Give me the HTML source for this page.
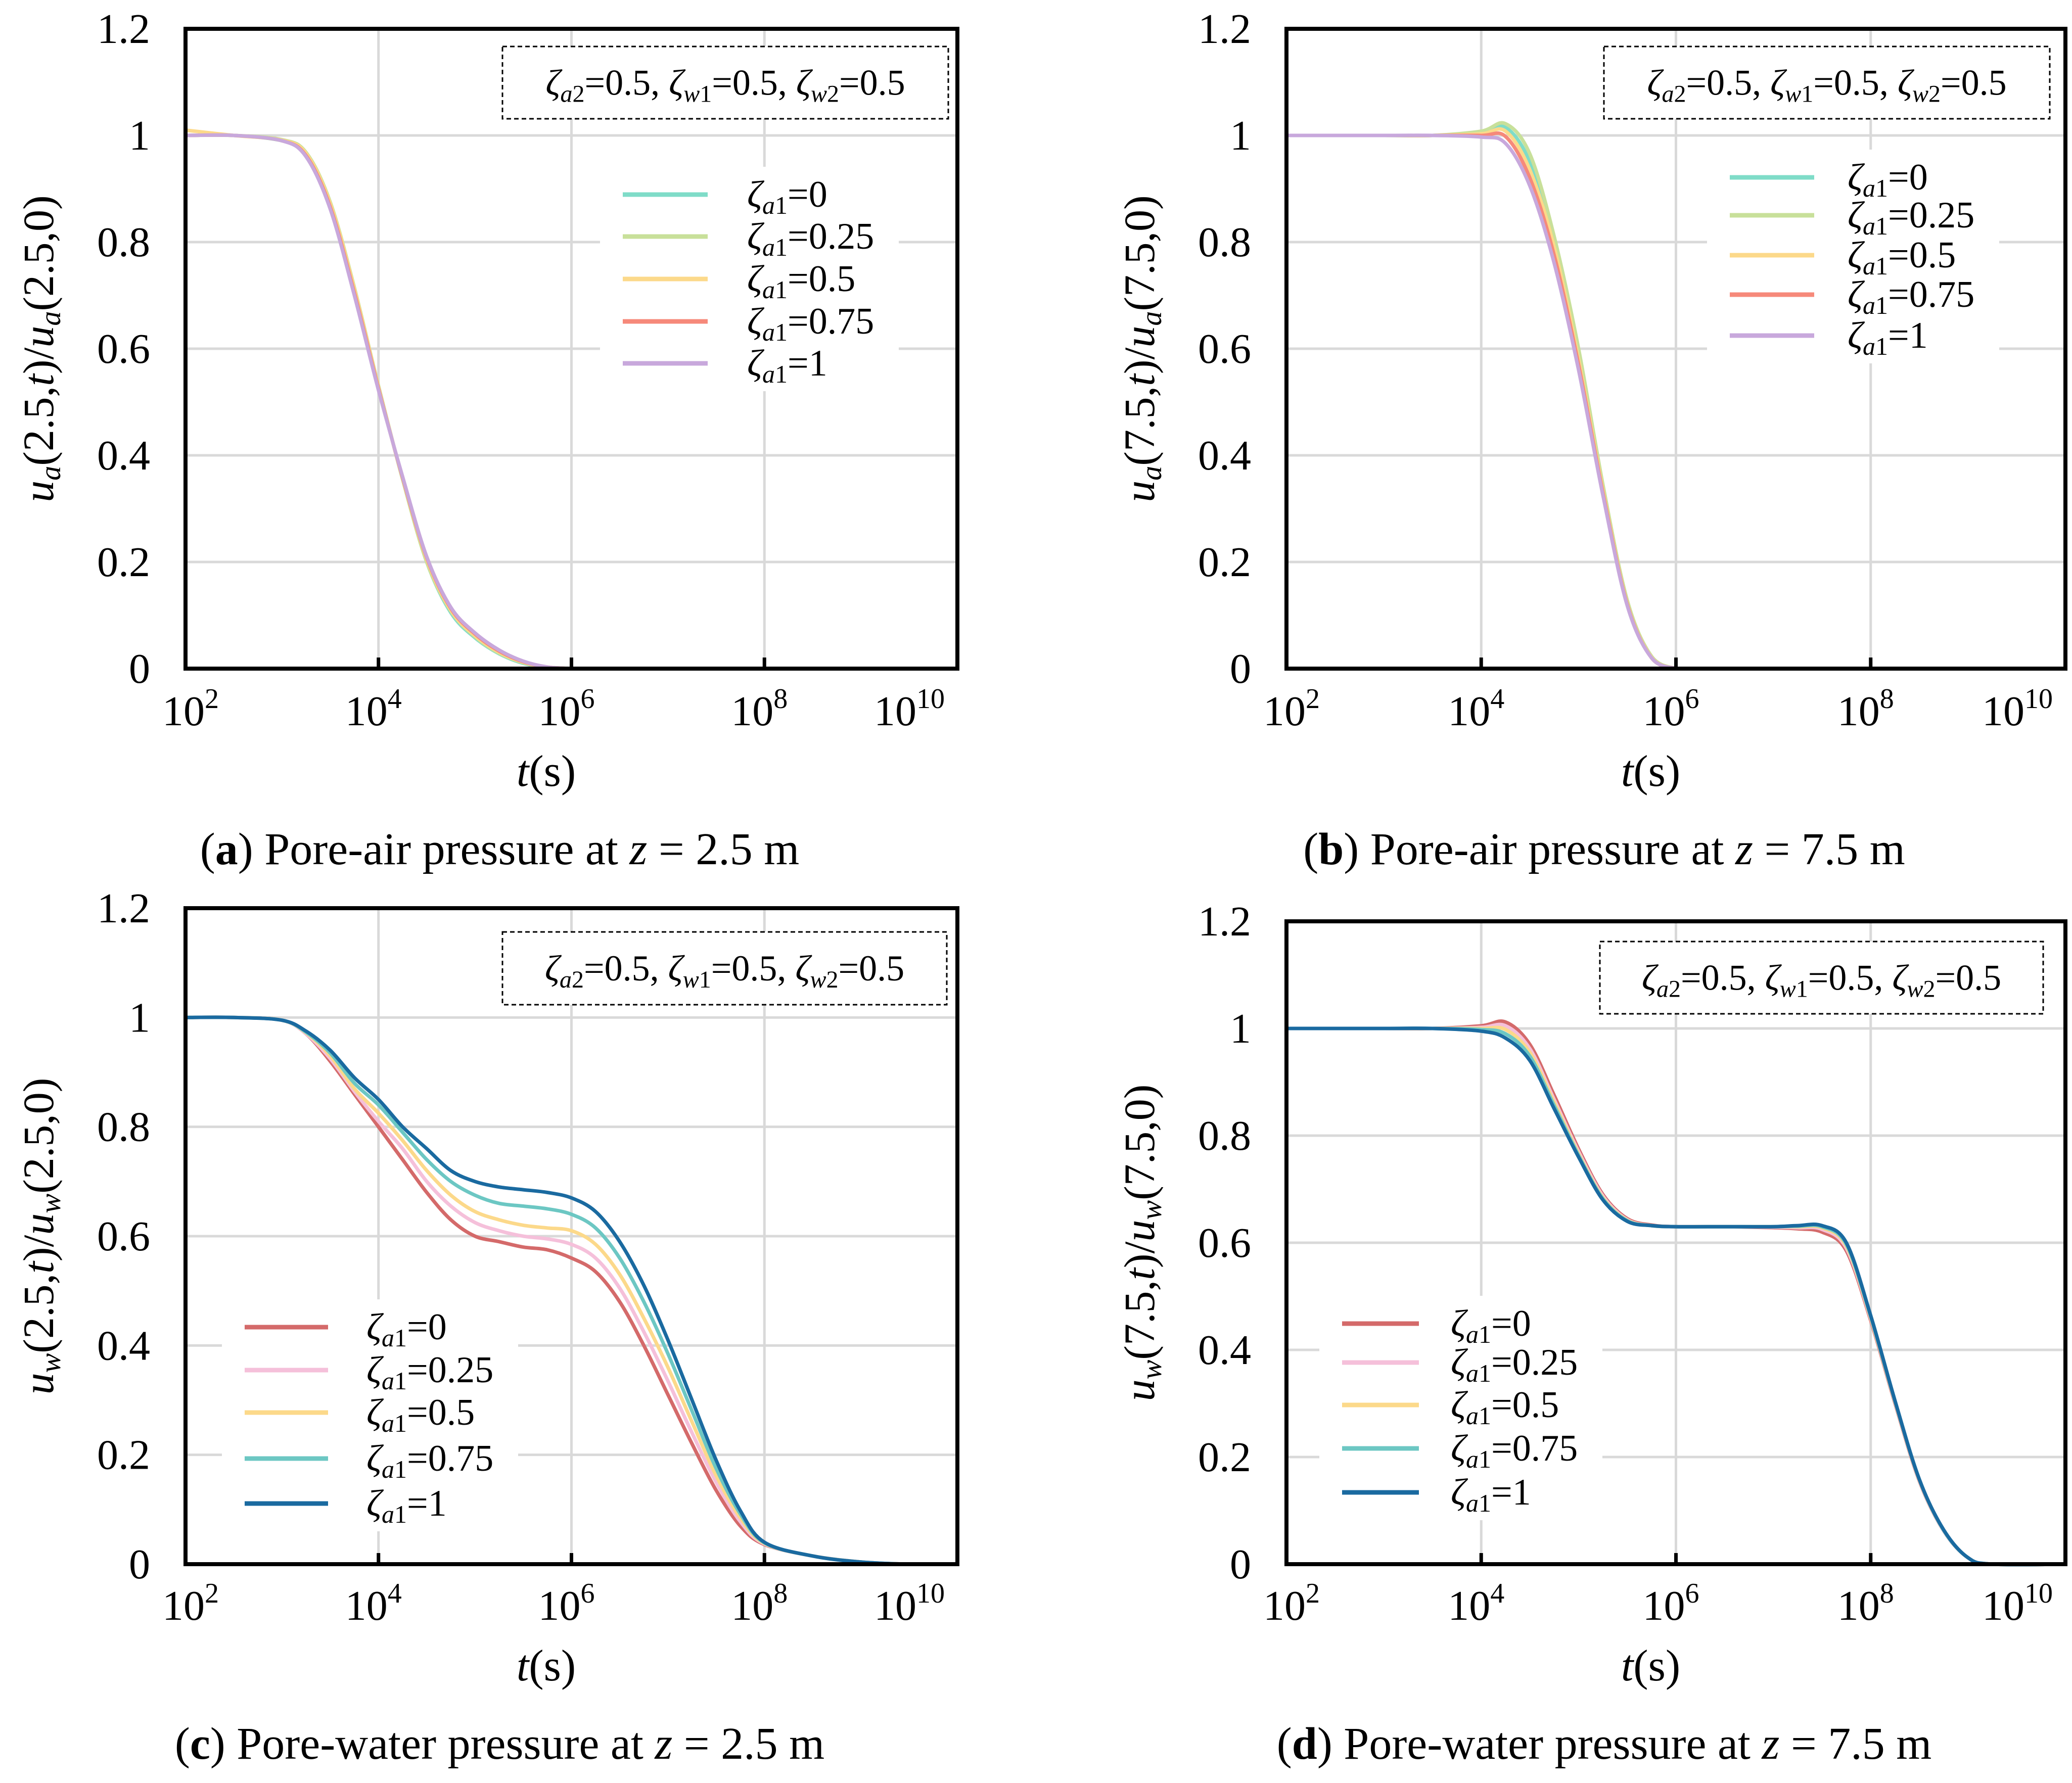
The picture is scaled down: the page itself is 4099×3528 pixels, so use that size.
<!DOCTYPE html>
<html><head><meta charset="utf-8">
<style>
html,body{margin:0;padding:0;background:#fff;}
svg{display:block;font-family:"Liberation Serif",serif;}
</style></head>
<body>
<svg id="fig" xmlns="http://www.w3.org/2000/svg" width="4099" height="3528" viewBox="0 0 4099 3528"></svg>
<script>
// ---- data (log10 t, normalized pressure) ----
const xA = [2,2.5,3,3.25,3.5,3.75,4,4.25,4.5,4.75,5,5.25,5.5,5.75,6];
const aS0 = [1,1,0.99,0.965,0.87,0.71,0.53,0.355,0.2,0.105,0.058,0.028,0.01,0.002,0];
const aS1 = [1,1,0.992,0.968,0.875,0.715,0.53,0.355,0.2,0.108,0.06,0.029,0.011,0.002,0];
const aS2 = [1.01,1,0.991,0.966,0.872,0.712,0.528,0.357,0.205,0.11,0.062,0.031,0.012,0.003,0];
const aS3 = [1,1,0.99,0.962,0.866,0.705,0.525,0.358,0.208,0.113,0.065,0.033,0.013,0.003,0];
const aS4 = [1,1,0.99,0.96,0.862,0.7,0.522,0.36,0.21,0.115,0.067,0.035,0.014,0.003,0];

const xB = [2,3,3.5,4,4.25,4.5,4.75,5,5.25,5.5,5.75,6];
const bS0 = [1,1,1,1.005,1.015,0.95,0.8,0.59,0.34,0.125,0.022,0];
const bS1 = [1,1,1,1.008,1.022,0.965,0.81,0.6,0.345,0.128,0.023,0];
const bS2 = [1,1,1,1.003,1.008,0.935,0.79,0.58,0.335,0.122,0.021,0];
const bS3 = [1,1,1,1,0.998,0.92,0.775,0.57,0.33,0.12,0.02,0];
const bS4 = [1,1,1,0.997,0.985,0.905,0.76,0.56,0.325,0.118,0.02,0];

const xC = [2,2.5,3,3.25,3.5,3.75,4,4.25,4.5,4.75,5,5.25,5.5,5.75,6,6.25,6.5,6.75,7,7.25,7.5,7.75,8,8.5,9,9.5,10];
const cS0 = [1,1,0.995,0.97,0.92,0.86,0.80,0.74,0.68,0.63,0.60,0.59,0.58,0.575,0.56,0.535,0.48,0.40,0.31,0.22,0.135,0.07,0.036,0.015,0.004,0,0];
const cS1 = [1,1,0.995,0.97,0.925,0.865,0.81,0.76,0.70,0.655,0.625,0.61,0.60,0.595,0.585,0.56,0.505,0.425,0.335,0.24,0.15,0.078,0.037,0.015,0.004,0,0];
const cS2 = [1,1,0.995,0.972,0.93,0.87,0.825,0.775,0.72,0.675,0.645,0.63,0.62,0.615,0.61,0.585,0.53,0.45,0.36,0.26,0.162,0.085,0.038,0.015,0.004,0,0];
const cS3 = [1,1,0.995,0.973,0.935,0.88,0.84,0.79,0.74,0.70,0.675,0.66,0.655,0.65,0.64,0.615,0.56,0.48,0.385,0.28,0.175,0.092,0.039,0.015,0.004,0,0];
const cS4 = [1,1,0.995,0.975,0.94,0.89,0.85,0.80,0.76,0.72,0.70,0.69,0.685,0.68,0.67,0.645,0.59,0.51,0.41,0.3,0.19,0.098,0.04,0.015,0.004,0,0];

const xD = [2,3,3.5,4,4.25,4.5,4.75,5,5.25,5.5,5.75,6,6.5,7,7.25,7.5,7.75,8,8.25,8.5,8.75,9,9.25,10];
const dS0 = [1,1,1,1.005,1.012,0.97,0.875,0.775,0.69,0.645,0.633,0.63,0.63,0.628,0.626,0.62,0.585,0.455,0.3,0.155,0.062,0.012,0,0];
const dS1 = [1,1,1,1.002,1.005,0.962,0.867,0.77,0.687,0.643,0.632,0.63,0.63,0.629,0.628,0.625,0.59,0.458,0.302,0.156,0.062,0.012,0,0];
const dS2 = [1,1,1,1,0.998,0.955,0.862,0.766,0.684,0.642,0.632,0.63,0.63,0.63,0.63,0.628,0.594,0.46,0.303,0.157,0.063,0.012,0,0];
const dS3 = [1,1,1,0.998,0.99,0.948,0.856,0.763,0.682,0.641,0.632,0.63,0.63,0.63,0.631,0.63,0.597,0.462,0.304,0.158,0.063,0.012,0,0];
const dS4 = [1,1,1,0.995,0.982,0.94,0.85,0.76,0.68,0.64,0.632,0.63,0.63,0.63,0.632,0.632,0.6,0.464,0.305,0.158,0.064,0.012,0,0];

const legendLabels = ["0","0.25","0.5","0.75","1"];
const yTicks = [0,0.2,0.4,0.6,0.8,1,1.2];
const yTickText = ["0","0.2","0.4","0.6","0.8","1","1.2"];
const xTicks = [2,4,6,8,10];

const NS="http://www.w3.org/2000/svg";
const svg=document.getElementById('fig');
function el(tag,attrs,parent){const e=document.createElementNS(NS,tag);for(const k in attrs)e.setAttribute(k,attrs[k]);(parent||svg).appendChild(e);return e;}

const colsAB=["#7fdcc8","#c8e09a","#fcd98a","#f6897a","#c8a8dc"];
const colsCD=["#d46a6a","#f5c0da","#fcd98a","#6cc7c3","#1a6aa0"];

const panels=[
 {id:"a",L:367,R:1894,T:57,B:1323,xs:xA,ys:[aS0,aS1,aS2,aS3,aS4],cols:colsAB,v:"a",z:"2.5",
  box:[994,92,1876,235],leg:{x1:1232,x2:1400,tx:1478,ys:[385,468,552,636,719]},cap:"Pore-air pressure at ",capz:"2.5",capY:1710,titleY:1555,tickY:1435},
 {id:"b",L:2545,R:4086,T:57,B:1323,xs:xB,ys:[bS0,bS1,bS2,bS3,bS4],cols:colsAB,v:"a",z:"7.5",
  box:[3173,92,4055,235],leg:{x1:3422,x2:3589,tx:3655,ys:[351,426,505,583,664]},cap:"Pore-air pressure at ",capz:"7.5",capY:1710,titleY:1555,tickY:1435},
 {id:"c",L:367,R:1894,T:1797,B:3095,xs:xC,ys:[cS0,cS1,cS2,cS3,cS4],cols:colsCD,v:"w",z:"2.5",
  box:[994,1844,1873,1988],leg:{x1:484,x2:649,tx:725,ys:[2626,2711,2795,2886,2975]},cap:"Pore-water pressure at ",capz:"2.5",capY:3480,titleY:3325,tickY:3205},
 {id:"d",L:2545,R:4086,T:1823,B:3095,xs:xD,ys:[dS0,dS1,dS2,dS3,dS4],cols:colsCD,v:"w",z:"7.5",
  box:[3165,1863,4042,2006],leg:{x1:2655,x2:2807,tx:2870,ys:[2619,2696,2780,2866,2953]},cap:"Pore-water pressure at ",capz:"7.5",capY:3480,titleY:3325,tickY:3205}
];

function smoothPath(pts){
  let d="M"+pts[0][0].toFixed(1)+","+pts[0][1].toFixed(1);
  for(let i=0;i<pts.length-1;i++){
    const p0=pts[Math.max(0,i-1)],p1=pts[i],p2=pts[i+1],p3=pts[Math.min(pts.length-1,i+2)];
    const c1=[p1[0]+(p2[0]-p0[0])/6,p1[1]+(p2[1]-p0[1])/6];
    const c2=[p2[0]-(p3[0]-p1[0])/6,p2[1]-(p3[1]-p1[1])/6];
    d+=" C"+c1[0].toFixed(1)+","+c1[1].toFixed(1)+" "+c2[0].toFixed(1)+","+c2[1].toFixed(1)+" "+p2[0].toFixed(1)+","+p2[1].toFixed(1);
  }
  return d;
}

panels.forEach(p=>{
  const g=el('g',{});
  
  
  const X=v=>p.L+(v-2)/8*(p.R-p.L);
  const Y=v=>p.B-v/1.2*(p.B-p.T);
  [4,6,8].forEach(t=>{const l=el('line',{x1:X(t),x2:X(t),y1:p.T,y2:p.B,stroke:"#d9d9d9","stroke-width":5},g);
    });
  yTicks.forEach(v=>{if(v>0&&v<1.2){const l=el('line',{x1:p.L,x2:p.R,y1:Y(v),y2:Y(v),stroke:"#d9d9d9","stroke-width":5},g);
    }});
  const lg=p.leg;
  const lbg=el('rect',{x:lg.x1-45,y:lg.ys[0]-55,width:(lg.tx+300)-(lg.x1-45),height:lg.ys[4]-lg.ys[0]+110,fill:"#fff"},g);
  
  const b=p.box;
  const ab=el('rect',{x:b[0],y:b[1],width:b[2]-b[0],height:b[3]-b[1],fill:"#fff",stroke:"#000","stroke-width":3,"stroke-dasharray":"9,6"},g);
  
  const at=el('text',{x:(b[0]+b[2])/2,y:(b[1]+b[3])/2+24,"text-anchor":"middle","font-size":72},g);
  
  at.innerHTML='<tspan font-style="italic">ζ</tspan><tspan font-size="48" dy="14"><tspan font-style="italic">a</tspan>2</tspan><tspan dy="-14">=0.5, </tspan><tspan font-style="italic">ζ</tspan><tspan font-size="48" dy="14"><tspan font-style="italic">w</tspan>1</tspan><tspan dy="-14">=0.5, </tspan><tspan font-style="italic">ζ</tspan><tspan font-size="48" dy="14"><tspan font-style="italic">w</tspan>2</tspan><tspan dy="-14">=0.5</tspan>';
  p.ys.forEach((s,i)=>{
    const pts=p.xs.map((x,j)=>[X(x),Y(s[j])]);
    const path=el('path',{d:smoothPath(pts),fill:"none",stroke:p.cols[i],"stroke-width":7,"stroke-linejoin":"round"},g);
    
    
  });
  legendLabels.forEach((lab,i)=>{
    const ln=el('line',{x1:lg.x1,x2:lg.x2,y1:lg.ys[i],y2:lg.ys[i],stroke:p.cols[i],"stroke-width":9},g);
    
    const t=el('text',{x:lg.tx,y:lg.ys[i]+24,"font-size":74},g);
    
    t.innerHTML='<tspan font-style="italic">ζ</tspan><tspan font-size="50" dy="14"><tspan font-style="italic">a</tspan>1</tspan><tspan dy="-14">='+lab+'</tspan>';
  });
  const fr=el('rect',{x:p.L,y:p.T,width:p.R-p.L,height:p.B-p.T,fill:"none",stroke:"#000","stroke-width":8},g);
  
  xTicks.forEach(t=>{
    if(t>2&&t<10){const tk=el('line',{x1:X(t),x2:X(t),y1:p.B,y2:p.B-22,stroke:"#000","stroke-width":7},g);
      }
    const tx=el('text',{x:X(t)+(t==10?-95:(t==2?10:-10)),y:p.tickY,"text-anchor":"middle","font-size":84},g);
    
    tx.innerHTML='10<tspan font-size="56" dy="-34">'+t+'</tspan>';
  });
  yTicks.forEach((v,i)=>{
    const ty=el('text',{x:p.L-70,y:Y(v)+28,"text-anchor":"end","font-size":84},g);
    
    ty.textContent=yTickText[i];
  });
  const xt=el('text',{x:(p.L+p.R)/2-50,y:p.titleY,"text-anchor":"middle","font-size":88},g);
  
  xt.innerHTML='<tspan font-style="italic">t</tspan>(s)';
  const cy=(p.T+p.B)/2;
  const yt=el('text',{x:0,y:0,"text-anchor":"middle","font-size":86,transform:"translate("+(p.L-262)+","+cy+") rotate(-90)"},g);
  
  yt.innerHTML='<tspan font-style="italic">u</tspan><tspan font-style="italic" font-size="58" dy="14">'+p.v+'</tspan><tspan dy="-14">('+p.z+',</tspan><tspan font-style="italic">t</tspan>)/<tspan font-style="italic">u</tspan><tspan font-style="italic" font-size="58" dy="14">'+p.v+'</tspan><tspan dy="-14">('+p.z+',0)</tspan>';
  const cp=el('text',{x:(p.L+p.R)/2-142,y:p.capY,"text-anchor":"middle","font-size":90},g);
  
  cp.innerHTML='(<tspan font-weight="bold">'+p.id+'</tspan>) '+p.cap+'<tspan font-style="italic">z</tspan> = '+p.capz+' m';
});
</script>
</body></html>
